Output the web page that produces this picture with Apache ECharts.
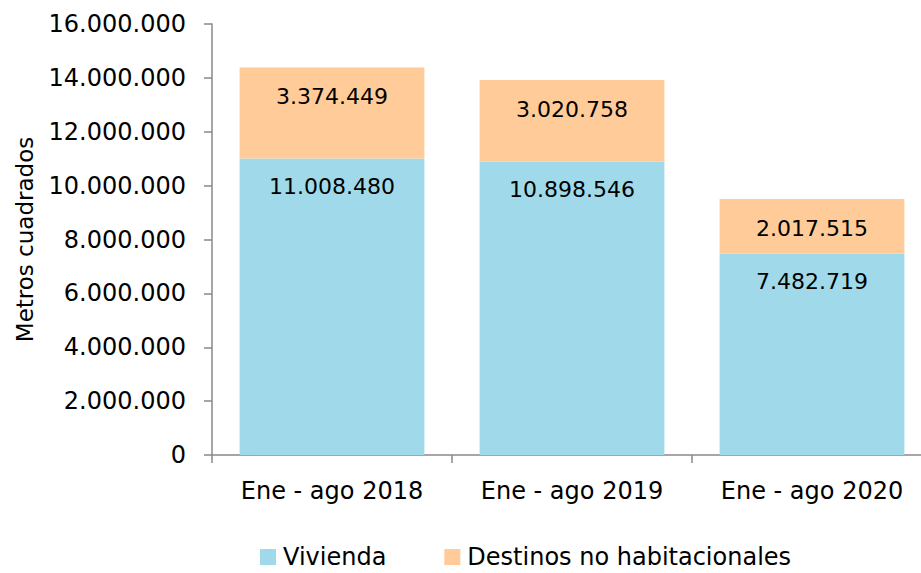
<!DOCTYPE html>
<html>
<head>
<meta charset="utf-8">
<script src="https://cdn.jsdelivr.net/npm/echarts@6/dist/echarts.min.js"></script>
<style>
  html, body { margin: 0; padding: 0; background: #fff; }
  #chart { width: 921px; height: 573px; }
</style>
</head>
<body>
<div id="chart"></div>
<script>
  const categories = ['Ene - ago 2018', 'Ene - ago 2019', 'Ene - ago 2020'];
  const vivienda = [11008480, 10898546, 7482719];
  const destinos = [3374449, 3020758, 2017515];

  function fmt(v) {
    return String(Math.round(v)).replace(/\B(?=(\d{3})+(?!\d))/g, '.');
  }

  const font = 'DejaVu Sans, sans-serif';
  const chart = echarts.init(document.getElementById('chart'), null, { renderer: 'svg' });
  chart.setOption({
    animation: false,
    textStyle: { fontFamily: font },
    grid: { left: 212, width: 720, top: 24, bottom: 118, outerBoundsMode: 'none' },
    legend: {
      top: 544,
      left: 260,
      padding: 0,
      itemWidth: 16,
      itemHeight: 16,
      itemGap: 58,
      icon: 'rect',
      textStyle: { fontSize: 24, lineHeight: 26, color: '#000', fontFamily: font, padding: [0, 0, 0, 2] },
      data: ['Vivienda', 'Destinos no habitacionales']
    },
    xAxis: {
      type: 'category',
      data: categories,
      axisLine: { lineStyle: { color: '#888', width: 1.5 } },
      axisTick: { show: true, length: 8, lineStyle: { color: '#888', width: 1.5 } },
      axisLabel: { fontSize: 24, color: '#000', margin: 24, fontFamily: font }
    },
    yAxis: {
      type: 'value',
      min: 0,
      max: 16000000,
      interval: 2000000,
      name: 'Metros cuadrados',
      nameLocation: 'middle',
      nameGap: 176,
      nameTextStyle: { fontSize: 23, color: '#000', fontFamily: font },
      axisLine: { show: true, lineStyle: { color: '#888', width: 1.5 } },
      axisTick: { show: true, length: 8, lineStyle: { color: '#888', width: 1.5 } },
      splitLine: { show: false },
      axisLabel: { fontSize: 24, color: '#000', margin: 26, fontFamily: font, formatter: fmt }
    },
    series: [
      {
        name: 'Vivienda',
        type: 'bar',
        stack: 'total',
        barWidth: '77%',
        data: vivienda,
        itemStyle: { color: '#A0DAEA' },
        label: {
          show: true, position: 'insideTop', distance: 17,
          fontSize: 22, color: '#000', fontFamily: font,
          formatter: function (p) { return fmt(p.value); }
        }
      },
      {
        name: 'Destinos no habitacionales',
        type: 'bar',
        stack: 'total',
        data: destinos,
        itemStyle: { color: '#FFCC99' },
        label: {
          show: true, position: 'insideTop', distance: 18,
          fontSize: 22, color: '#000', fontFamily: font,
          formatter: function (p) { return fmt(p.value); }
        }
      }
    ]
  });
</script>
</body>
</html>
